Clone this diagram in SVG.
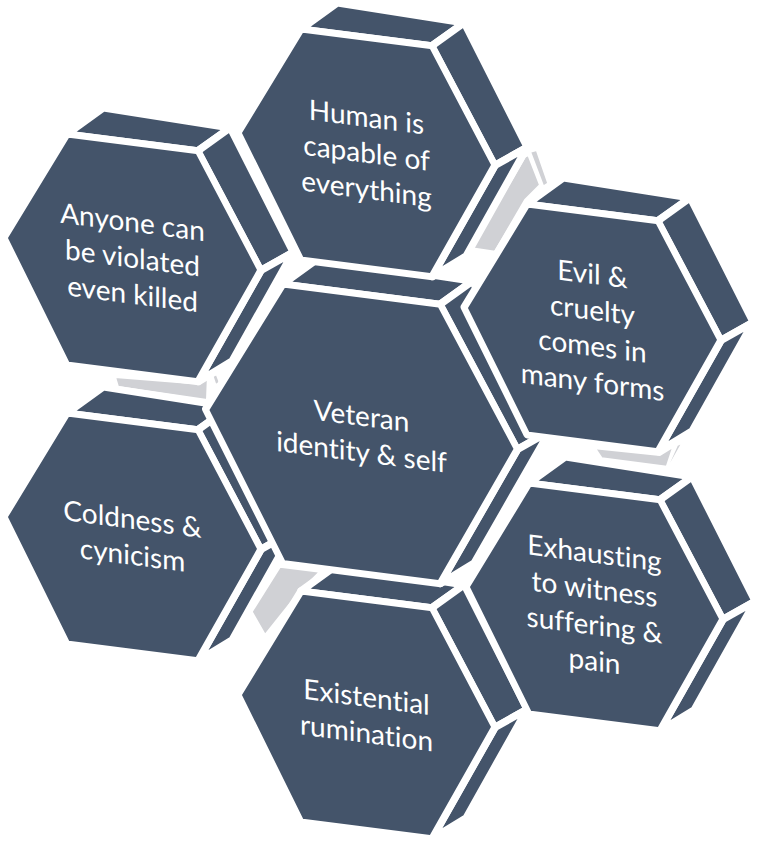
<svg xmlns="http://www.w3.org/2000/svg" xmlns:xlink="http://www.w3.org/1999/xlink" width="760" height="843" viewBox="0 0 760 843">
<style>
.face{fill:#44546A;stroke:#FFFFFF;stroke-width:7;stroke-linejoin:round}
.conn{fill:#D0D1D5;stroke:#FFFFFF;stroke-width:2;stroke-linejoin:round}
.lbl{font-family:Lato,"Open Sans",sans-serif;font-size:28px;fill:#FFFFFF;text-anchor:middle;font-variant-ligatures:none;font-feature-settings:"liga" 0}
</style>
<defs>
<g id="hexOuter">
<polygon class="face" points="-65.5,-115.5 65.5,-115.5 97.5,-142.5 -29.5,-146.1"/>
<polygon class="face" points="65.5,-115.5 128.5,-4 160.5,-26 97.5,-142.5"/>
<polygon class="face" points="128.5,-4 65.5,115.5 99.5,90.5 160.5,-26"/>
<polygon class="face" points="-128.5,-4 -65.5,-115.5 65.5,-115.5 128.5,-4 65.5,115.5 -65.5,115.5"/>
</g>
<g id="hexCenter">
<polygon class="face" points="-78.7,-139.8 78.7,-139.8 110.7,-166.8 -42.7,-170.4"/>
<polygon class="face" points="78.7,-139.8 156,-4.5 188,-26.5 110.7,-166.8"/>
<polygon class="face" points="156,-4.5 78.7,139.8 112.7,114.8 188,-26.5"/>
<polygon class="face" points="-156,-4.5 -78.7,-139.8 78.7,-139.8 156,-4.5 78.7,139.8 -78.7,139.8"/>
</g>
</defs>
<rect width="760" height="843" fill="#FFFFFF"/>
<g id="connectors">
<polygon class="conn" points="471.7,248.3 525,156.7 528.3,155 540,185 525,200 495,251.7"/>
<polygon class="conn" points="530,151.7 536.7,150 548.3,183.3 543.3,186.7"/>
<polygon class="conn" points="115,377 190,383 208,374 207,400 118,387"/>
<polygon class="conn" points="212.5,376 216.5,374 220,383 215.5,385"/>
<polygon class="conn" points="595,448.3 660,455 673.3,446.7 666.7,466.7 601.7,458.3"/>
<polygon class="conn" points="677,445 683,442 670,465 668,465"/>
<polygon class="conn" points="280,566.7 320,571.7 298.3,593.3 265,635 251.7,611.7"/>
</g>
<g id="node-anyone" transform="translate(132.5,257.9) skewY(7.3)">
<use xlink:href="#hexOuter"/>
<text class="lbl"><tspan x="0" y="-26">Anyone can</tspan><tspan x="0" y="10">be violated</tspan><tspan x="0" y="46">even killed</tspan></text>
</g>
<g id="node-coldness" transform="translate(132.5,536.9) skewY(7.3)">
<use xlink:href="#hexOuter"/>
<text class="lbl"><tspan x="0" y="-8">Coldness &amp;</tspan><tspan x="0" y="28">cynicism</tspan></text>
</g>
<g id="node-existential" transform="translate(366.5,714.9) skewY(7.3)">
<use xlink:href="#hexOuter"/>
<text class="lbl"><tspan x="0" y="-8">Existential</tspan><tspan x="0" y="28">rumination</tspan></text>
</g>
<g id="node-veteran" transform="translate(361.5,433.9) skewY(7.3)">
<use xlink:href="#hexCenter"/>
<text class="lbl"><tspan x="0" y="-8">Veteran</tspan><tspan x="0" y="28">identity &amp; self</tspan></text>
</g>
<g id="node-human" transform="translate(366.5,152.9) skewY(7.3)">
<use xlink:href="#hexOuter"/>
<text class="lbl"><tspan x="0" y="-26">Human is</tspan><tspan x="0" y="10">capable of</tspan><tspan x="0" y="46">everything</tspan></text>
</g>
<g id="node-evil" transform="translate(592.5,327.9) skewY(7.3)">
<use xlink:href="#hexOuter"/>
<text class="lbl"><tspan x="0" y="-44">Evil &amp;</tspan><tspan x="0" y="-8">cruelty</tspan><tspan x="0" y="28">comes in</tspan><tspan x="0" y="64">many forms</tspan></text>
</g>
<g id="node-exhausting" transform="translate(594.5,606.9) skewY(7.3)">
<use xlink:href="#hexOuter"/>
<text class="lbl"><tspan x="0" y="-44">Exhausting</tspan><tspan x="0" y="-8">to witness</tspan><tspan x="0" y="28">suffering &amp;</tspan><tspan x="0" y="64">pain</tspan></text>
</g>
</svg>
